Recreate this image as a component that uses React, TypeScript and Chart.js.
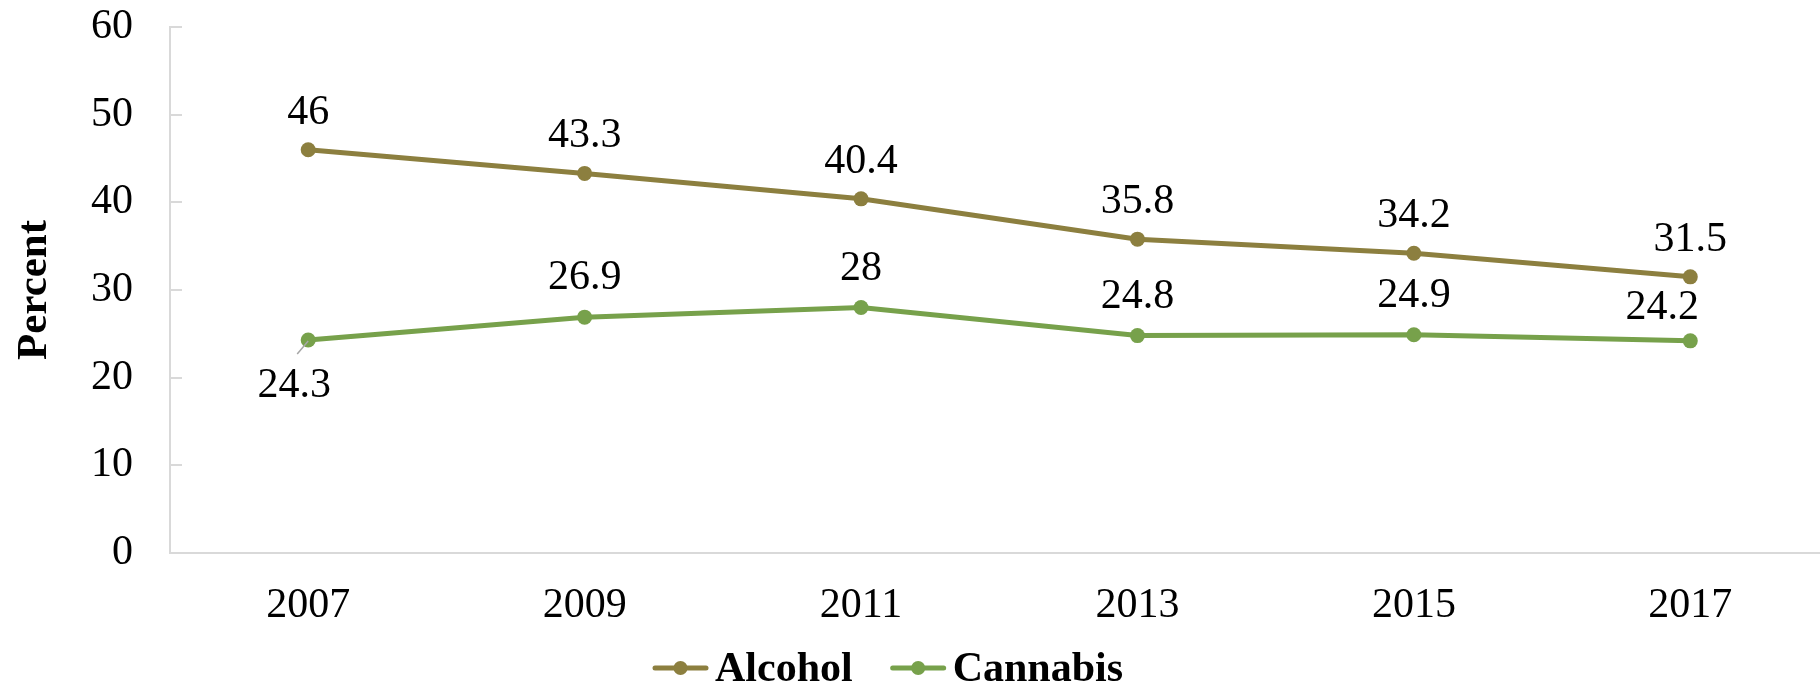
import React, { useEffect, useRef } from 'react';
import { Chart, registerables } from 'chart.js';

Chart.register(...registerables);

const years = ['2007', '2009', '2011', '2013', '2015', '2017'];
const alcohol = [46, 43.3, 40.4, 35.8, 34.2, 31.5];
const cannabis = [24.3, 26.9, 28, 24.8, 24.9, 24.2];
const seriesNames = ['Alcohol', 'Cannabis'];
const seriesColors = ['#8C7F3F', '#77A14B'];
const yMin = 0;
const yMax = 60;
const yStep = 10;
const yTitle = 'Percent';

const FONT = "'Liberation Serif', 'Times New Roman', serif";
const AXIS_COLOR = '#D9D9D9';

const innerTicks = {
  id: 'innerTicks',
  afterDraw(chart: any) {
    const { ctx } = chart;
    const y = chart.scales.y;
    ctx.save();
    ctx.strokeStyle = AXIS_COLOR;
    ctx.lineWidth = 2;
    y.ticks.forEach((_t: any, i: number) => {
      const py = Math.round(y.getPixelForTick(i));
      ctx.beginPath();
      ctx.moveTo(chart.chartArea.left, py);
      ctx.lineTo(chart.chartArea.left + 12, py);
      ctx.stroke();
    });
    ctx.restore();
  },
};

const dataLabels = {
  id: 'dataLabels',
  afterDatasetsDraw(chart: any) {
    const { ctx } = chart;
    ctx.save();
    ctx.font = `42px ${FONT}`;
    ctx.fillStyle = '#000';
    ctx.textAlign = 'center';
    ctx.textBaseline = 'alphabetic';
    chart.data.datasets.forEach((ds: any, di: number) => {
      const meta = chart.getDatasetMeta(di);
      meta.data.forEach((pt: any, i: number) => {
        const v = ds.data[i];
        let x = pt.x;
        let y = pt.y - 26;
        if (di === 1 && i === 0) {
          ctx.save();
          ctx.strokeStyle = '#A6A6A6';
          ctx.lineWidth = 1.5;
          ctx.beginPath();
          ctx.moveTo(pt.x, pt.y + 1);
          ctx.lineTo(pt.x - 11, pt.y + 14);
          ctx.stroke();
          ctx.restore();
          x = pt.x - 14;
          y = pt.y + 57;
        } else if (di === 1 && i === 5) {
          x = pt.x - 28;
          y = pt.y - 22;
        } else if (di === 1) {
          y = pt.y - 28;
        }
        ctx.fillText(String(v), x, y);
      });
    });
    ctx.restore();
  },
};

const customLegend = {
  id: 'customLegend',
  afterDraw(chart: any) {
    const { ctx } = chart;
    ctx.save();
    ctx.font = `bold 42px ${FONT}`;
    ctx.textBaseline = 'alphabetic';
    ctx.textAlign = 'left';
    let x = 653;
    const cy = 668;
    chart.data.datasets.forEach((ds: any) => {
      const color = ds.borderColor;
      ctx.strokeStyle = color;
      ctx.lineWidth = 5;
      ctx.lineCap = 'round';
      ctx.beginPath();
      ctx.moveTo(x + 2, cy);
      ctx.lineTo(x + 53, cy);
      ctx.stroke();
      ctx.fillStyle = color;
      ctx.beginPath();
      ctx.arc(x + 27.5, cy, 7, 0, Math.PI * 2);
      ctx.fill();
      ctx.fillStyle = '#000';
      const tx = x + 62;
      ctx.fillText(ds.label, tx, 681);
      x = tx + ctx.measureText(ds.label).width + 38;
    });
    ctx.restore();
  },
};

export default function App() {
  const ref = useRef<HTMLCanvasElement | null>(null);

  useEffect(() => {
    if (!ref.current) return;
    const chart = new Chart(ref.current, {
      type: 'line',
      data: {
        labels: years,
        datasets: [
          {
            label: seriesNames[0],
            data: alcohol,
            borderColor: seriesColors[0],
            backgroundColor: seriesColors[0],
            borderWidth: 5,
            pointRadius: 7.5,
            pointBorderWidth: 0,
            pointBackgroundColor: seriesColors[0],
            tension: 0,
          },
          {
            label: seriesNames[1],
            data: cannabis,
            borderColor: seriesColors[1],
            backgroundColor: seriesColors[1],
            borderWidth: 5,
            pointRadius: 7.5,
            pointBorderWidth: 0,
            pointBackgroundColor: seriesColors[1],
            tension: 0,
          },
        ],
      },
      options: {
        responsive: false,
        animation: false,
        devicePixelRatio: 1,
        layout: { padding: { top: 27, left: 0, right: 0, bottom: 0 } },
        plugins: {
          legend: { display: false },
          tooltip: { enabled: false },
        },
        scales: {
          x: {
            offset: true,
            grid: { display: true, drawOnChartArea: false, drawTicks: false },
            border: { color: AXIS_COLOR, width: 2 },
            ticks: {
              font: { family: FONT, size: 42 },
              color: '#000',
              padding: 28,
              maxRotation: 0,
              autoSkip: false,
            },
            afterFit: (s: any) => {
              s.height = 132;
              s.paddingLeft = 0;
              s.paddingRight = 0;
            },
          },
          y: {
            min: yMin,
            max: yMax,
            grid: { display: true, drawOnChartArea: false, drawTicks: false },
            border: { color: AXIS_COLOR, width: 2 },
            ticks: {
              stepSize: yStep,
              font: { family: FONT, size: 42 },
              color: '#000',
              padding: 37,
            },
            title: {
              display: true,
              text: yTitle,
              font: { family: FONT, size: 43, weight: 'bold' },
              color: '#000',
              padding: { top: 9, bottom: 0 },
            },
            afterFit: (s: any) => {
              s.width = 170;
              s.paddingTop = 0;
              s.paddingBottom = 0;
            },
          },
        },
      },
      plugins: [innerTicks, dataLabels, customLegend],
    } as any);
    return () => chart.destroy();
  }, []);

  return (
    <div
      style={{
        position: 'fixed',
        left: 0,
        top: 0,
        width: 1820,
        height: 685,
        overflow: 'hidden',
        background: '#fff',
      }}
    >
      <canvas ref={ref} width={1836} height={685} style={{ display: 'block' }} />
    </div>
  );
}
